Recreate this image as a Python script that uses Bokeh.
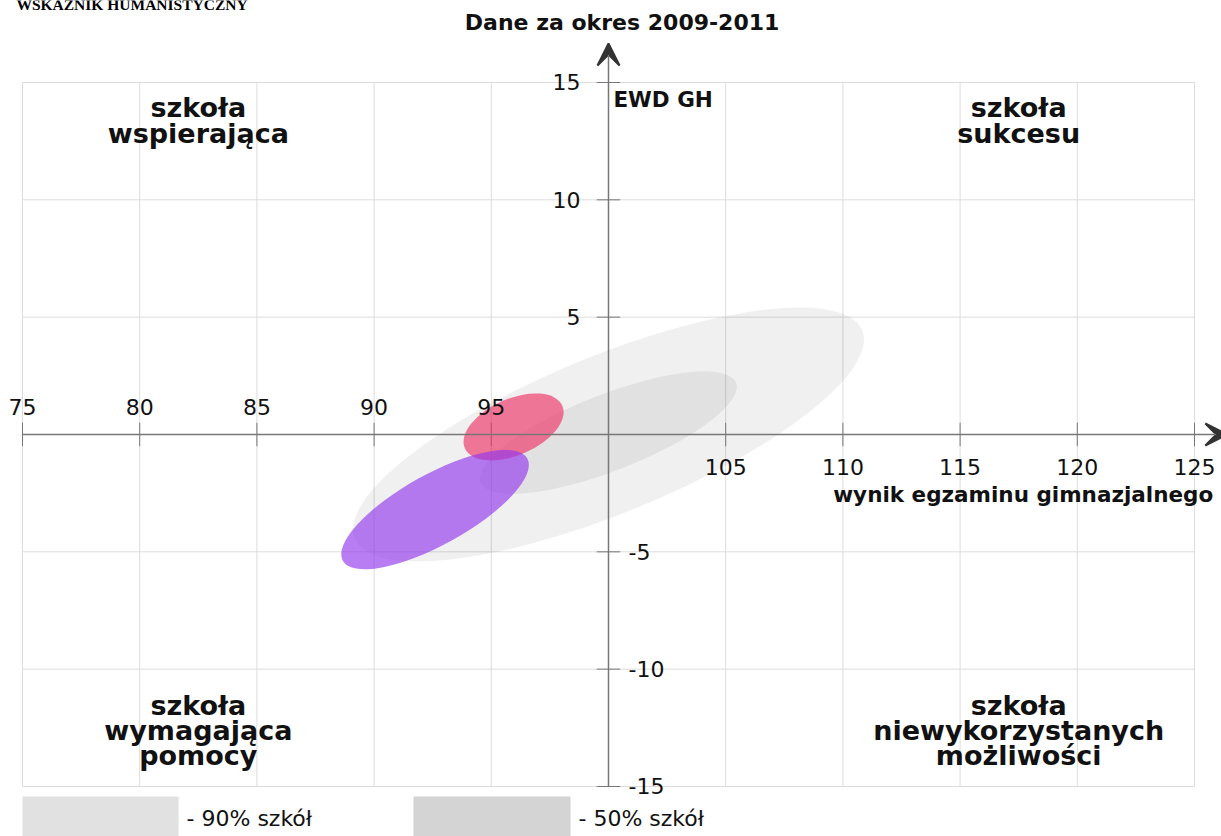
from bokeh.plotting import figure
from bokeh.models import Range1d, Arrow, VeeHead
from bokeh.core.properties import value
from bokeh.embed import file_html
from bokeh.resources import INLINE

# ---- data ----
x_ticks = [75, 80, 85, 90, 95, 100, 105, 110, 115, 120, 125]
y_ticks = [-15, -10, -5, 0, 5, 10, 15]
x_labels_left = ["75", "80", "85", "90", "95"]
x_labels_right = ["105", "110", "115", "120", "125"]
y_labels_pos = ["15", "10", "5"]
y_labels_neg = ["-5", "-10", "-15"]

band_names = ["90% szkół", "50% szkół"]
band_x = [100.0, 100.0]
band_y = [0.0, 0.08]
band_w = [23.4, 11.7]
band_h = [6.7, 3.25]
band_angle = [22.3, 21.35]

school_x = [95.95, 92.6]
school_y = [0.32, -3.2]
school_w = [4.54, 9.0]
school_h = [2.41, 3.0]
school_angle = [23.6, 29.0]
school_colors = ["#ee3366", "#9236ec"]

page_heading = "WSKAŹNIK HUMANISTYCZNY"
title_text = "Dane za okres 2009-2011"
y_title = "EWD GH"
x_title = "wynik egzaminu gimnazjalnego"
quad_top_left = ["szkoła", "wspierająca"]
quad_top_right = ["szkoła", "sukcesu"]
quad_bottom_left = ["szkoła", "wymagająca", "pomocy"]
quad_bottom_right = ["szkoła", "niewykorzystanych", "możliwości"]
legend_texts = ["- 90% szkół", "- 50% szkół"]

FONT = value("DejaVu Sans")

p = figure(width=1221, height=836, x_range=Range1d(74.0614, 126.152),
           y_range=Range1d(-17.131, 18.494), x_axis_type=None, y_axis_type=None,
           min_border=0, toolbar_location=None, output_backend="svg",
           outline_line_color=None, background_fill_color="white")

# grid
p.segment(x0=x_ticks, y0=[-15] * len(x_ticks), x1=x_ticks, y1=[15] * len(x_ticks),
          line_color="#dcdcdc", line_width=1)
p.segment(x0=[75] * len(y_ticks), y0=y_ticks, x1=[125] * len(y_ticks), y1=y_ticks,
          line_color="#dcdcdc", line_width=1)

# band ellipses
p.ellipse(x=band_x, y=band_y, width=band_w, height=band_h, angle=band_angle,
          angle_units="deg", fill_color="#000000", fill_alpha=0.058, line_color=None)

# axes
p.add_layout(Arrow(x_start=75, y_start=0, x_end=126.4, y_end=0,
                   line_color="#777777", line_width=1.5,
                   end=VeeHead(size=22, fill_color="#333333", line_color="#333333", line_width=2)))
p.add_layout(Arrow(x_start=100, y_start=-15, x_end=100, y_end=16.66,
                   line_color="#777777", line_width=1.5,
                   end=VeeHead(size=22, fill_color="#333333", line_color="#333333", line_width=2)))

xt = [t for t in x_ticks if t != 100]
yt = [t for t in y_ticks if t != 0]
p.segment(x0=xt, y0=[-0.5] * len(xt), x1=xt, y1=[0.5] * len(xt), line_color="#777777", line_width=1)
p.segment(x0=[99.5] * len(yt), y0=yt, x1=[100.5] * len(yt), y1=yt, line_color="#777777", line_width=1)

# school ellipses
p.ellipse(x=school_x, y=school_y, width=school_w, height=school_h, angle=school_angle,
          angle_units="deg", fill_color=school_colors, fill_alpha=0.65, line_color=None)

# tick labels
TICK = dict(text_font=FONT, text_font_size="22px", text_color="#111111", text_baseline="middle")
p.text(x=[float(s) for s in x_labels_left], y=[0] * 5, text=x_labels_left, y_offset=-27,
       text_align="center", **TICK)
p.text(x=[float(s) for s in x_labels_right], y=[0] * 5, text=x_labels_right, y_offset=33,
       text_align="center", **TICK)
p.text(x=[100] * 3, y=[float(s) for s in y_labels_pos], text=y_labels_pos, x_offset=-28,
       text_align="right", **TICK)
p.text(x=[100] * 3, y=[float(s) for s in y_labels_neg], text=y_labels_neg, x_offset=20,
       text_align="left", **TICK)

# page heading (cut off at top, as in the original page)
p.text(x=[74.74], y=[18.33], text=[page_heading], text_align="left", text_baseline="alphabetic",
       text_font=value("Liberation Serif"), text_font_style="bold", text_font_size="15.5px",
       text_color="#000000")

# titles
p.text(x=[100.58], y=[17.56], text=[title_text], text_align="center", text_baseline="middle",
       text_font=FONT, text_font_style="bold", text_font_size="22px", text_color="#111111")
p.text(x=[100.21], y=[14.28], text=[y_title], text_align="left", text_baseline="middle",
       text_font=FONT, text_font_style="bold", text_font_size="21.5px", text_color="#111111")
p.text(x=[125.8], y=[-2.56], text=[x_title], text_align="right", text_baseline="middle",
       text_font=FONT, text_font_style="bold", text_font_size="21.5px", text_color="#111111")

# quadrant labels
def quad(lines, x, ys):
    p.text(x=[x] * len(lines), y=ys, text=lines, text_align="center", text_baseline="middle",
           text_font=FONT, text_font_style="bold", text_font_size="27px", text_color="#111111")

quad(quad_top_left, 82.5, [13.93, 12.83])
quad(quad_top_right, 117.5, [13.93, 12.83])
quad(quad_bottom_left, 82.5, [-11.55, -12.61, -13.68])
quad(quad_bottom_right, 117.5, [-11.55, -12.61, -13.68])

# legend
p.quad(left=[75, 91.68], right=[81.66, 98.38], top=[-15.43, -15.43], bottom=[-17.3, -17.3],
       fill_color=["#e1e1e1", "#d4d4d4"], line_color=None)
p.text(x=[82.0, 98.72], y=[-16.36, -16.36], text=legend_texts, text_align="left", text_baseline="middle",
       text_font=FONT, text_font_size="22px", text_color="#111111")

open("out.html", "w").write(file_html(p, INLINE))
